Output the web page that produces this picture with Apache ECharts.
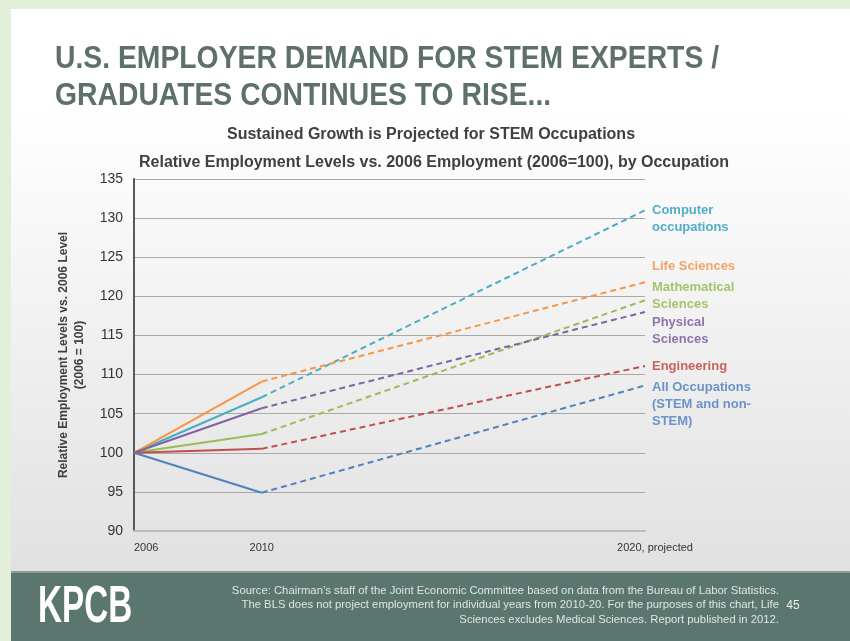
<!DOCTYPE html>
<html>
<head>
<meta charset="utf-8">
<script src="https://cdn.jsdelivr.net/npm/echarts@6/dist/echarts.min.js"></script>
<style>
html,body{margin:0;padding:0;background:#e2efd9;}
#chart{width:850px;height:641px;}
</style>
</head>
<body>
<div id="chart"></div>
<script>
// ---- data ----
var occupations = ['Computer occupations', 'Life Sciences', 'Mathematical Sciences', 'Physical Sciences', 'Engineering', 'All Occupations (STEM and non-STEM)'];
var endLabels = ['Computer\noccupations', 'Life Sciences', 'Mathematical\nSciences', 'Physical\nSciences', 'Engineering', 'All Occupations\n(STEM and non-\nSTEM)'];
var xCategories = ['2006', '2010', '', '', '2020, projected'];
var values2006 = [100, 100, 100, 100, 100, 100];
var values2010 = [107.1, 109.1, 102.4, 105.7, 100.5, 94.9];
var values2020 = [131.0, 121.8, 119.5, 118.0, 111.1, 108.6];
var yTicks = { min: 90, max: 135, step: 5 };

// ---- styles ----
var colors = ['#4bacc6', '#f79646', '#9bbb59', '#8064a2', '#c0504d', '#4f81bd'];
var labelColors = ['#52aec8', '#f5a468', '#a5c46c', '#8d74ad', '#c96361', '#6b93c8'];
var labelOffsets = [[0, 9], [0, -16], [0, -4], [0, 19], [0, 0], [0, 19]];

var chart = echarts.init(document.getElementById('chart'));
var series = [];
occupations.forEach(function (name, i) {
  series.push({
    name: name, type: 'line', symbol: 'none', z: 3,
    data: [values2006[i], values2010[i], null, null, null],
    lineStyle: { color: colors[i], width: 2 },
    itemStyle: { color: colors[i] }
  });
  series.push({
    name: name + ' (projected)', type: 'line', symbol: 'none', connectNulls: true, z: 3,
    data: [null, values2010[i], null, null, values2020[i]],
    lineStyle: { color: colors[i], width: 2, type: [6, 4] },
    itemStyle: { color: colors[i] },
    endLabel: {
      show: true, formatter: endLabels[i], color: labelColors[i],
      fontFamily: 'Liberation Sans, Arial, sans-serif', fontWeight: 'bold', fontSize: 13,
      lineHeight: 17, distance: 7, offset: labelOffsets[i], align: 'left'
    }
  });
});

var titleFont = 'bold 32px "Liberation Sans", Arial, sans-serif';
var option = {
  backgroundColor: '#e2efd9',
  animation: false,
  textStyle: { fontFamily: 'Liberation Sans, Arial, sans-serif' },
  graphic: [
    { type: 'rect', z: -20, shape: { x: 11, y: 9, width: 839, height: 563 }, style: { fill: '#ffffff' } },
    { type: 'rect', z: -19, shape: { x: 11, y: 110, width: 839, height: 462 },
      style: { fill: new echarts.graphic.LinearGradient(0, 0, 0, 1, [
        { offset: 0, color: '#ffffff' }, { offset: 1, color: '#e1e1e1' }]) } },
    { type: 'rect', z: -18, shape: { x: 11, y: 572, width: 839, height: 69 }, style: { fill: '#5a766f' } },
    { type: 'rect', z: -17, shape: { x: 11, y: 571, width: 839, height: 2 }, style: { fill: '#8c9c98' } },
    { type: 'text', z: 10, x: 55, y: 59, scaleX: 0.885, style: { text: 'U.S. EMPLOYER DEMAND FOR STEM EXPERTS /', font: titleFont, fill: '#5d706b', verticalAlign: 'middle' } },
    { type: 'text', z: 10, x: 55, y: 96, scaleX: 0.885, style: { text: 'GRADUATES CONTINUES TO RISE...', font: titleFont, fill: '#5d706b', verticalAlign: 'middle' } },
    { type: 'text', z: 10, x: 431, y: 135, style: { text: 'Sustained Growth is Projected for STEM Occupations', font: 'bold 16px "Liberation Sans", Arial, sans-serif', fill: '#404040', align: 'center', verticalAlign: 'middle' } },
    { type: 'text', z: 10, x: 434, y: 163, style: { text: 'Relative Employment Levels vs. 2006 Employment (2006=100), by Occupation', font: 'bold 16px "Liberation Sans", Arial, sans-serif', fill: '#404040', align: 'center', verticalAlign: 'middle' } },
    { type: 'text', z: 10, x: 38, y: 608, scaleX: 0.64, style: { text: 'KPCB', font: 'bold 52px "Liberation Sans", Arial, sans-serif', fill: '#ffffff', verticalAlign: 'middle' } },
    { type: 'text', z: 10, x: 779, y: 605, style: { text: 'Source: Chairman\u2019s staff of the Joint Economic Committee based on data from the Bureau of Labor Statistics.\nThe BLS does not project employment for individual years from 2010-20. For the purposes of this chart, Life\nSciences excludes Medical Sciences. Report published in 2012.', font: '11.3px "Liberation Sans", Arial, sans-serif', lineHeight: 14.5, fill: '#dfe5e3', align: 'right', verticalAlign: 'middle' } },
    { type: 'text', z: 10, x: 793, y: 606, style: { text: '45', font: '12px "Liberation Sans", Arial, sans-serif', fill: '#eef2f1', align: 'center', verticalAlign: 'middle' } }
  ],
  grid: { left: 134, right: 205, top: 179, bottom: 110, containLabel: false },
  xAxis: {
    type: 'category', boundaryGap: false,
    data: xCategories.map(function (c, i) {
      if (i === 0) return { value: c, textStyle: { align: 'left' } };
      if (i === xCategories.length - 1) return { value: c, textStyle: { padding: [0, 0, 0, 20] } };
      return c;
    }),
    axisLine: { lineStyle: { color: '#bdbdbd', width: 2 } },
    axisTick: { show: false },
    axisLabel: { interval: 0, color: '#333333', fontSize: 11, margin: 11 },
    splitLine: { show: false }
  },
  yAxis: {
    type: 'value', min: yTicks.min, max: yTicks.max, interval: yTicks.step,
    name: 'Relative Employment Levels vs. 2006 Level\n(2006 = 100)',
    nameLocation: 'middle', nameRotate: 90, nameGap: 46,
    nameTextStyle: { color: '#404040', fontWeight: 'bold', fontSize: 12, lineHeight: 16 },
    axisLine: { show: true, lineStyle: { color: '#595959', width: 2 } },
    axisTick: { show: false },
    axisLabel: { color: '#333333', fontSize: 14, margin: 11 },
    splitLine: { lineStyle: { color: '#a8a8a8', width: 1 } }
  },
  series: series
};
chart.setOption(option);
</script>
</body>
</html>
